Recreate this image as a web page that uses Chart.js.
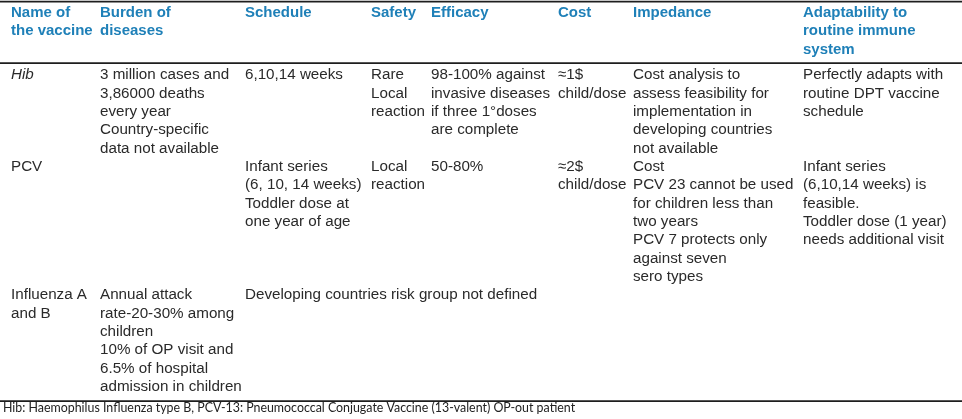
<!DOCTYPE html>
<html>
<head>
<meta charset="utf-8">
<script src="https://cdn.jsdelivr.net/npm/chart.js@4"></script>
<style>
  html, body { margin: 0; padding: 0; background: #fff; }
  #wrap { width: 962px; height: 419px; position: relative; }
</style>
</head>
<body>
<div id="wrap"><canvas id="vaccineTable"></canvas></div>
<script>
// ================================
// VACCINE TABLE - DATA
// ================================

const headers = [
    ["Name of", "the vaccine"],
    ["Burden of", "diseases"],
    ["Schedule"],
    ["Safety"],
    ["Efficacy"],
    ["Cost"],
    ["Impedance"],
    ["Adaptability to", "routine immune", "system"]
];

const hibRow = [
    ["Hib"],
    ["3 million cases and", "3,86000 deaths", "every year", "Country-specific", "data not available"],
    ["6,10,14 weeks"],
    ["Rare", "Local", "reaction"],
    ["98-100% against", "invasive diseases", "if three 1°doses", "are complete"],
    ["≈1$", "child/dose"],
    ["Cost analysis to", "assess feasibility for", "implementation in", "developing countries", "not available"],
    ["Perfectly adapts with", "routine DPT vaccine", "schedule"]
];

const pcvRow = [
    ["PCV"],
    [],
    ["Infant series", "(6, 10, 14 weeks)", "Toddler dose at", "one year of age"],
    ["Local", "reaction"],
    ["50-80%"],
    ["≈2$", "child/dose"],
    ["Cost", "PCV 23 cannot be used", "for children less than", "two years", "PCV 7 protects only", "against seven", "sero types"],
    ["Infant series", "(6,10,14 weeks) is", "feasible.", "Toddler dose (1 year)", "needs additional visit"]
];

// schedule cell spans the remaining columns
const fluRow = [
    ["Influenza A", "and B"],
    ["Annual attack", "rate-20-30% among", "children", "10% of OP visit and", "6.5% of hospital", "admission in children"],
    ["Developing countries risk group not defined"],
    [], [], [], [], []
];

const rows = [hibRow, pcvRow, fluRow];
const italicCells = [[0, 0]];   // [row, col]

const footnote = "Hib: Haemophilus Influenza type B, PCV-13: Pneumococcal Conjugate Vaccine (13-valent) OP-out patient";

// ================================
// LAYOUT (x in page units, y in text lines)
// ================================
const colLeft = [11, 100, 245, 371, 431, 558, 633, 803];
const bodyStart = 3.38;
const ruleTop = -0.62, ruleHead = 2.73, ruleBottom = 21.15, footY = 21.55;

const tablePlugin = {
    id: "tableText",
    afterDraw(chart) {
        const c = chart.ctx;
        const x = chart.scales.x;
        const y = chart.scales.y;

        /* rules */
        c.save();
        c.strokeStyle = "#1e1e1e";
        c.lineWidth = 1.6;
        [ruleTop, ruleHead, ruleBottom].forEach(v => {
            const py = y.getPixelForValue(v);
            c.beginPath();
            c.moveTo(x.left, py);
            c.lineTo(x.right, py);
            c.stroke();
        });

        c.textBaseline = "middle";
        c.textAlign = "left";

        /* header */
        c.fillStyle = "#1f80b8";
        c.font = "bold 15px 'Liberation Sans', Arial, sans-serif";
        headers.forEach((lines, ci) => {
            lines.forEach((t, li) => {
                c.fillText(t, x.getPixelForValue(colLeft[ci]), y.getPixelForValue(li));
            });
        });

        /* body */
        c.fillStyle = "#2a2a2a";
        let start = bodyStart;
        rows.forEach((row, ri) => {
            row.forEach((lines, ci) => {
                const ital = italicCells.some(p => p[0] === ri && p[1] === ci);
                c.font = (ital ? "italic " : "") + "15.2px 'Liberation Sans', Arial, sans-serif";
                lines.forEach((t, li) => {
                    c.fillText(t, x.getPixelForValue(colLeft[ci]), y.getPixelForValue(start + li));
                });
            });
            start += Math.max(...row.map(r => r.length));
        });

        /* footnote */
        c.fillStyle = "#222";
        c.font = "12.4px Lato, 'Open Sans', sans-serif";
        c.fillText(footnote, x.getPixelForValue(3), y.getPixelForValue(footY));
        c.restore();
    }
};

document.addEventListener("DOMContentLoaded", () => {
    const ctx = document.getElementById("vaccineTable");

    new Chart(ctx, {
        type: "scatter",
        data: { datasets: [{ data: [], pointRadius: 0 }] },
        options: {
            responsive: true,
            maintainAspectRatio: false,
            animation: false,
            layout: { padding: 0 },
            plugins: { legend: { display: false }, tooltip: { enabled: false } },
            scales: {
                x: { type: "linear", min: 0, max: 962, display: false },
                y: { type: "linear", reverse: true, min: -0.708, max: 22.125, display: false }
            }
        },
        plugins: [tablePlugin]
    });
});
</script>
</body>
</html>
